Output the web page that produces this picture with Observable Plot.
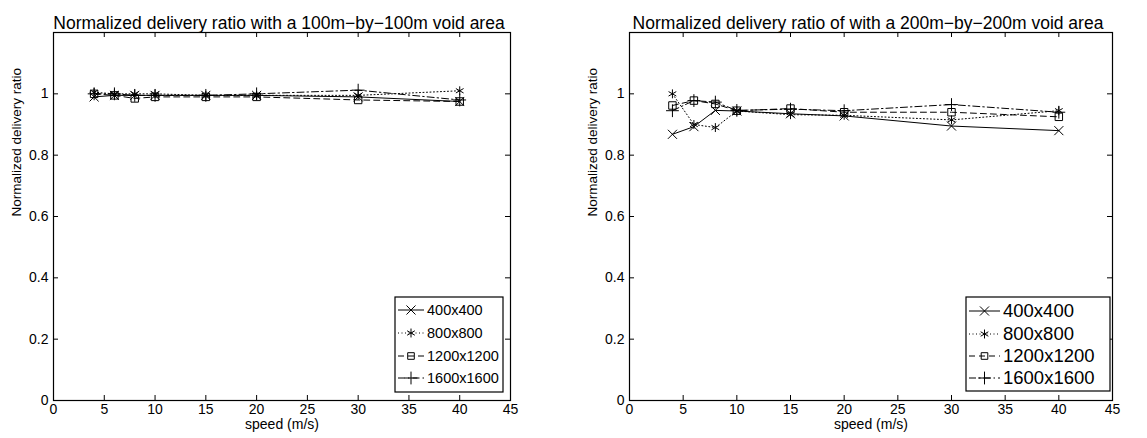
<!DOCTYPE html>
<html>
<head>
<meta charset="utf-8">
<script src="https://cdn.jsdelivr.net/npm/d3@7"></script>
<script src="https://cdn.jsdelivr.net/npm/@observablehq/plot@0.6"></script>
<style>
  html, body { margin: 0; padding: 0; background: #fff; }
  #wrap { display: flex; width: 1147px; height: 438px; }
</style>
</head>
<body>
<div id="wrap"></div>
<script>
// ---- data ----
const speeds = [4, 6, 8, 10, 15, 20, 30, 40];
const seriesNames = ["400x400", "800x800", "1200x1200", "1600x1600"];
const xTicks = [0, 5, 10, 15, 20, 25, 30, 35, 40, 45];
const yTicks = [0, 0.2, 0.4, 0.6, 0.8, 1];

const titleLeft = "Normalized delivery ratio with a 100m\u2212by\u2212100m void area";
const titleRight = "Normalized delivery ratio of with a 200m\u2212by\u2212200m void area";
const xLabel = "speed (m/s)";
const yLabel = "Normalized delivery ratio";

// 100m-by-100m void area
const left400 = [0.990, 0.995, 0.995, 0.995, 0.995, 0.995, 0.990, 0.975];
const left800 = [1.005, 1.000, 1.000, 1.000, 0.995, 0.995, 0.995, 1.010];
const left1200 = [1.000, 0.995, 0.985, 0.990, 0.990, 0.990, 0.980, 0.975];
const left1600 = [1.000, 1.000, 0.995, 0.995, 0.995, 1.000, 1.012, 0.980];

// 200m-by-200m void area
const right400 = [0.868, 0.893, 0.946, 0.944, 0.935, 0.928, 0.895, 0.880];
const right800 = [1.000, 0.900, 0.890, 0.944, 0.932, 0.930, 0.915, 0.945];
const right1200 = [0.962, 0.978, 0.967, 0.945, 0.952, 0.940, 0.940, 0.925];
const right1600 = [0.945, 0.978, 0.973, 0.946, 0.950, 0.945, 0.965, 0.940];

// ---- styles per series ----
const dashes = [null, "1,2.5", "6,4", "7,3,1.5,3"];
const symbols = ["times", "asterisk", "square", "plus"];
const d3Symbols = [d3.symbolTimes, d3.symbolAsterisk, d3.symbolSquare2, d3.symbolPlus];
const R = 4.2;

function rows(arrs) {
  const out = [];
  arrs.forEach((vals, i) => speeds.forEach((s, j) => out.push({speed: s, value: vals[j], series: seriesNames[i], k: i})));
  return out;
}

function makeChart({width, marginLeft, marginRight, title, data, legend}) {
  const marginTop = 32, marginBottom = 38, height = 438;
  const fw = width - marginLeft - marginRight;
  const fh = height - marginTop - marginBottom;
  const font = "'Liberation Sans', Arial, Helvetica, sans-serif";
  const marks = [
    Plot.frame({stroke: "black", strokeWidth: 1.2}),
    Plot.axisX({ticks: xTicks, tickSize: 0, tickPadding: 4, tickFormat: d => String(d), fontSize: 14}),
    Plot.axisY({ticks: yTicks, tickSize: 0, tickPadding: 5, tickFormat: d => String(d), fontSize: 14}),
    Plot.tickX(xTicks, {x: d => d, insetTop: fh - 5, stroke: "black"}),
    Plot.tickX(xTicks, {x: d => d, insetBottom: fh - 5, stroke: "black"}),
    Plot.tickY(yTicks, {y: d => d, insetRight: fw - 5, stroke: "black"}),
    Plot.tickY(yTicks, {y: d => d, insetLeft: fw - 5, stroke: "black"})
  ];
  seriesNames.forEach((name, i) => {
    const d = data.filter(r => r.k === i);
    marks.push(Plot.line(d, {x: "speed", y: "value", stroke: "black", strokeWidth: 1, strokeDasharray: dashes[i]}));
  });
  seriesNames.forEach((name, i) => {
    const d = data.filter(r => r.k === i);
    marks.push(Plot.dot(d, {x: "speed", y: "value", symbol: () => symbols[i], r: R, stroke: "black", strokeWidth: 1, fill: "none"}));
  });
  marks.push(Plot.text([title], {text: d => d, frameAnchor: "top", dx: -3, dy: -16, fontSize: 17.5, fill: "black"}));
  marks.push(Plot.text([xLabel], {text: d => d, frameAnchor: "bottom", dy: 28, fontSize: 14, fill: "black"}));
  marks.push(Plot.text([yLabel], {text: d => d, frameAnchor: "left", dx: -37, rotate: -90, fontSize: 13.5, fill: "black"}));

  const svg = Plot.plot({
    width, height, marginTop, marginBottom, marginLeft, marginRight,
    style: {fontFamily: font, fontSize: "14px", color: "black", background: "white", overflow: "visible"},
    x: {domain: [0, 45], label: null},
    y: {domain: [0, 1.2], label: null},
    marks
  });

  // legend
  const g = d3.select(svg).append("g").attr("font-family", font).attr("text-anchor", "start");
  const L = legend;
  g.append("rect").attr("x", L.x0).attr("y", L.y0).attr("width", L.x1 - L.x0).attr("height", L.y1 - L.y0)
    .attr("fill", "white").attr("stroke", "black").attr("stroke-width", 1.2);
  seriesNames.forEach((name, i) => {
    const cy = L.rows[i];
    g.append("line").attr("x1", L.lx0).attr("x2", L.lx1).attr("y1", cy).attr("y2", cy)
      .attr("stroke", "black").attr("stroke-width", 1).attr("stroke-dasharray", dashes[i]);
    g.append("path").attr("d", d3.symbol(d3Symbols[i], R * R * Math.PI)())
      .attr("transform", `translate(${(L.lx0 + L.lx1) / 2},${cy})`)
      .attr("fill", "none").attr("stroke", "black").attr("stroke-width", 1);
    g.append("text").attr("x", L.tx).attr("y", cy).attr("dy", "0.35em").attr("font-size", L.fs)
      .attr("text-anchor", "start").attr("fill", "black").text(name);
  });
  return svg;
}

const wrap = document.getElementById("wrap");
wrap.appendChild(makeChart({
  width: 573, marginLeft: 53, marginRight: 63, title: titleLeft,
  data: rows([left400, left800, left1200, left1600]),
  legend: {x0: 395, x1: 503, y0: 297, y1: 392, lx0: 398, lx1: 424, tx: 427, fs: 14.5, rows: [310, 333, 356, 378]}
}));
wrap.appendChild(makeChart({
  width: 574, marginLeft: 56, marginRight: 35, title: titleRight,
  data: rows([right400, right800, right1200, right1600]),
  legend: {x0: 393, x1: 537, y0: 297, y1: 391, lx0: 396, lx1: 427, tx: 430, fs: 18.5, rows: [311, 334, 356, 378]}
}));
</script>
</body>
</html>
